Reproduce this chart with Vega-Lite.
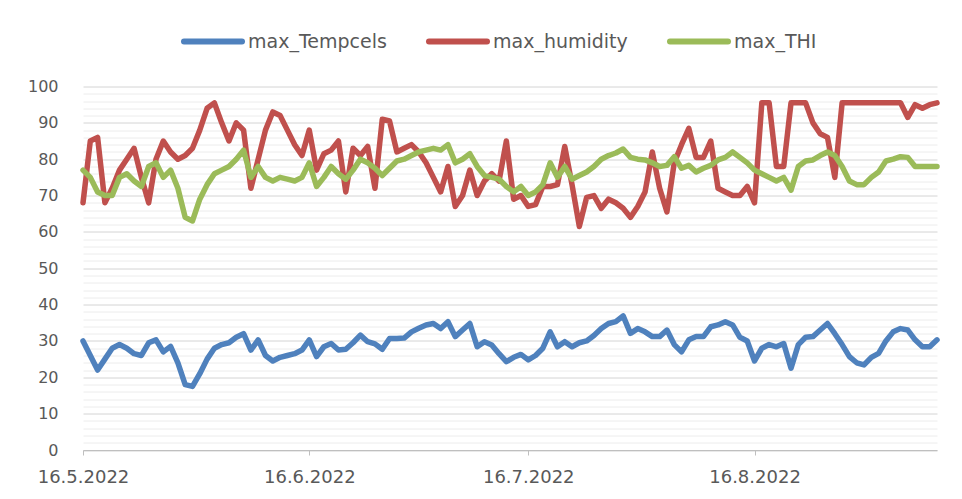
{
  "$schema": "https://vega.github.io/schema/vega-lite/v6.json",
  "width": 854,
  "height": 363.5,
  "autosize": {"type": "none"},
  "padding": {"left": 83, "top": 86.5, "right": 25, "bottom": 49},
  "background": "white",
  "config": {"view": {"stroke": null}},
  "data": {"values": [
    {"date": "2022/05/16", "max_Tempcels": 30, "max_humidity": 68, "max_THI": 77},
    {"date": "2022/05/17", "max_Tempcels": 26, "max_humidity": 85, "max_THI": 75},
    {"date": "2022/05/18", "max_Tempcels": 22, "max_humidity": 86, "max_THI": 71},
    {"date": "2022/05/19", "max_Tempcels": 25, "max_humidity": 68, "max_THI": 70},
    {"date": "2022/05/20", "max_Tempcels": 28, "max_humidity": 72, "max_THI": 70},
    {"date": "2022/05/21", "max_Tempcels": 29, "max_humidity": 77, "max_THI": 75},
    {"date": "2022/05/22", "max_Tempcels": 28, "max_humidity": 80, "max_THI": 76},
    {"date": "2022/05/23", "max_Tempcels": 26.5, "max_humidity": 83, "max_THI": 74},
    {"date": "2022/05/24", "max_Tempcels": 26, "max_humidity": 75, "max_THI": 72.5},
    {"date": "2022/05/25", "max_Tempcels": 29.5, "max_humidity": 68, "max_THI": 78},
    {"date": "2022/05/26", "max_Tempcels": 30.3, "max_humidity": 80, "max_THI": 79},
    {"date": "2022/05/27", "max_Tempcels": 27, "max_humidity": 85, "max_THI": 75},
    {"date": "2022/05/28", "max_Tempcels": 28.5, "max_humidity": 82, "max_THI": 77},
    {"date": "2022/05/29", "max_Tempcels": 24, "max_humidity": 80, "max_THI": 72},
    {"date": "2022/05/30", "max_Tempcels": 18, "max_humidity": 81, "max_THI": 64},
    {"date": "2022/05/31", "max_Tempcels": 17.5, "max_humidity": 83, "max_THI": 63},
    {"date": "2022/06/01", "max_Tempcels": 21, "max_humidity": 88, "max_THI": 69},
    {"date": "2022/06/02", "max_Tempcels": 25, "max_humidity": 94, "max_THI": 73},
    {"date": "2022/06/03", "max_Tempcels": 28, "max_humidity": 95.5, "max_THI": 76},
    {"date": "2022/06/04", "max_Tempcels": 29, "max_humidity": 90, "max_THI": 77},
    {"date": "2022/06/05", "max_Tempcels": 29.5, "max_humidity": 85, "max_THI": 78},
    {"date": "2022/06/06", "max_Tempcels": 31, "max_humidity": 90, "max_THI": 80},
    {"date": "2022/06/07", "max_Tempcels": 32, "max_humidity": 88, "max_THI": 82.5},
    {"date": "2022/06/08", "max_Tempcels": 27.5, "max_humidity": 72, "max_THI": 75},
    {"date": "2022/06/09", "max_Tempcels": 30.3, "max_humidity": 80, "max_THI": 78},
    {"date": "2022/06/10", "max_Tempcels": 26, "max_humidity": 88, "max_THI": 75},
    {"date": "2022/06/11", "max_Tempcels": 24.5, "max_humidity": 93, "max_THI": 74},
    {"date": "2022/06/12", "max_Tempcels": 25.5, "max_humidity": 92, "max_THI": 75},
    {"date": "2022/06/13", "max_Tempcels": 26, "max_humidity": 88, "max_THI": 74.5},
    {"date": "2022/06/14", "max_Tempcels": 26.5, "max_humidity": 84, "max_THI": 74},
    {"date": "2022/06/15", "max_Tempcels": 27.5, "max_humidity": 81, "max_THI": 75},
    {"date": "2022/06/16", "max_Tempcels": 30.3, "max_humidity": 88, "max_THI": 79},
    {"date": "2022/06/17", "max_Tempcels": 25.7, "max_humidity": 77, "max_THI": 72.5},
    {"date": "2022/06/18", "max_Tempcels": 28.4, "max_humidity": 81.5, "max_THI": 75},
    {"date": "2022/06/19", "max_Tempcels": 29.3, "max_humidity": 82.5, "max_THI": 78},
    {"date": "2022/06/20", "max_Tempcels": 27.5, "max_humidity": 85, "max_THI": 76},
    {"date": "2022/06/21", "max_Tempcels": 27.7, "max_humidity": 71, "max_THI": 74.5},
    {"date": "2022/06/22", "max_Tempcels": 29.5, "max_humidity": 83, "max_THI": 77},
    {"date": "2022/06/23", "max_Tempcels": 31.6, "max_humidity": 81, "max_THI": 80},
    {"date": "2022/06/24", "max_Tempcels": 29.8, "max_humidity": 83.5, "max_THI": 79},
    {"date": "2022/06/25", "max_Tempcels": 29.2, "max_humidity": 72, "max_THI": 77.5},
    {"date": "2022/06/26", "max_Tempcels": 27.7, "max_humidity": 91, "max_THI": 75.5},
    {"date": "2022/06/27", "max_Tempcels": 30.7, "max_humidity": 90.5, "max_THI": 77.5},
    {"date": "2022/06/28", "max_Tempcels": 30.7, "max_humidity": 82, "max_THI": 79.5},
    {"date": "2022/06/29", "max_Tempcels": 30.8, "max_humidity": 83, "max_THI": 80},
    {"date": "2022/06/30", "max_Tempcels": 32.5, "max_humidity": 84, "max_THI": 81},
    {"date": "2022/07/01", "max_Tempcels": 33.5, "max_humidity": 82, "max_THI": 82},
    {"date": "2022/07/02", "max_Tempcels": 34.4, "max_humidity": 79, "max_THI": 82.5},
    {"date": "2022/07/03", "max_Tempcels": 34.8, "max_humidity": 75, "max_THI": 83},
    {"date": "2022/07/04", "max_Tempcels": 33.4, "max_humidity": 71, "max_THI": 82.5},
    {"date": "2022/07/05", "max_Tempcels": 35.3, "max_humidity": 78, "max_THI": 84},
    {"date": "2022/07/06", "max_Tempcels": 31.2, "max_humidity": 67, "max_THI": 79},
    {"date": "2022/07/07", "max_Tempcels": 33, "max_humidity": 70, "max_THI": 80},
    {"date": "2022/07/08", "max_Tempcels": 34.8, "max_humidity": 77, "max_THI": 81.5},
    {"date": "2022/07/09", "max_Tempcels": 28.4, "max_humidity": 70, "max_THI": 78},
    {"date": "2022/07/10", "max_Tempcels": 29.8, "max_humidity": 74, "max_THI": 75.5},
    {"date": "2022/07/11", "max_Tempcels": 28.9, "max_humidity": 76, "max_THI": 75},
    {"date": "2022/07/12", "max_Tempcels": 26.5, "max_humidity": 74, "max_THI": 74.5},
    {"date": "2022/07/13", "max_Tempcels": 24.3, "max_humidity": 85, "max_THI": 72.5},
    {"date": "2022/07/14", "max_Tempcels": 25.5, "max_humidity": 69, "max_THI": 71},
    {"date": "2022/07/15", "max_Tempcels": 26.3, "max_humidity": 70, "max_THI": 72.5},
    {"date": "2022/07/16", "max_Tempcels": 24.8, "max_humidity": 67, "max_THI": 70},
    {"date": "2022/07/17", "max_Tempcels": 26, "max_humidity": 67.5, "max_THI": 71},
    {"date": "2022/07/18", "max_Tempcels": 28, "max_humidity": 72.5, "max_THI": 73},
    {"date": "2022/07/19", "max_Tempcels": 32.5, "max_humidity": 72.5, "max_THI": 79},
    {"date": "2022/07/20", "max_Tempcels": 28.4, "max_humidity": 73, "max_THI": 75},
    {"date": "2022/07/21", "max_Tempcels": 29.8, "max_humidity": 83.5, "max_THI": 78},
    {"date": "2022/07/22", "max_Tempcels": 28.4, "max_humidity": 73, "max_THI": 74.5},
    {"date": "2022/07/23", "max_Tempcels": 29.5, "max_humidity": 61.5, "max_THI": 75.5},
    {"date": "2022/07/24", "max_Tempcels": 30, "max_humidity": 69.5, "max_THI": 76.5},
    {"date": "2022/07/25", "max_Tempcels": 31.5, "max_humidity": 70, "max_THI": 78},
    {"date": "2022/07/26", "max_Tempcels": 33.4, "max_humidity": 66.5, "max_THI": 80},
    {"date": "2022/07/27", "max_Tempcels": 34.8, "max_humidity": 69, "max_THI": 81},
    {"date": "2022/07/28", "max_Tempcels": 35.3, "max_humidity": 68, "max_THI": 81.7},
    {"date": "2022/07/29", "max_Tempcels": 36.9, "max_humidity": 66.5, "max_THI": 82.8},
    {"date": "2022/07/30", "max_Tempcels": 32.1, "max_humidity": 64, "max_THI": 80.5},
    {"date": "2022/07/31", "max_Tempcels": 33.4, "max_humidity": 67, "max_THI": 80},
    {"date": "2022/08/01", "max_Tempcels": 32.5, "max_humidity": 71, "max_THI": 79.8},
    {"date": "2022/08/02", "max_Tempcels": 31.2, "max_humidity": 82, "max_THI": 79},
    {"date": "2022/08/03", "max_Tempcels": 31.2, "max_humidity": 72, "max_THI": 78},
    {"date": "2022/08/04", "max_Tempcels": 33, "max_humidity": 65.5, "max_THI": 78.3},
    {"date": "2022/08/05", "max_Tempcels": 29, "max_humidity": 79, "max_THI": 80.7},
    {"date": "2022/08/06", "max_Tempcels": 27, "max_humidity": 84, "max_THI": 77.5},
    {"date": "2022/08/07", "max_Tempcels": 30.3, "max_humidity": 88.5, "max_THI": 78.3},
    {"date": "2022/08/08", "max_Tempcels": 31.2, "max_humidity": 80.5, "max_THI": 76.5},
    {"date": "2022/08/09", "max_Tempcels": 31.2, "max_humidity": 80.5, "max_THI": 77.5},
    {"date": "2022/08/10", "max_Tempcels": 33.9, "max_humidity": 85, "max_THI": 78.3},
    {"date": "2022/08/11", "max_Tempcels": 34.4, "max_humidity": 72, "max_THI": 79.8},
    {"date": "2022/08/12", "max_Tempcels": 35.3, "max_humidity": 71, "max_THI": 80.5},
    {"date": "2022/08/13", "max_Tempcels": 34.4, "max_humidity": 70, "max_THI": 82},
    {"date": "2022/08/14", "max_Tempcels": 31, "max_humidity": 70, "max_THI": 80.5},
    {"date": "2022/08/15", "max_Tempcels": 30, "max_humidity": 72.5, "max_THI": 79},
    {"date": "2022/08/16", "max_Tempcels": 24.5, "max_humidity": 68, "max_THI": 77},
    {"date": "2022/08/17", "max_Tempcels": 28, "max_humidity": 95.5, "max_THI": 76},
    {"date": "2022/08/18", "max_Tempcels": 29, "max_humidity": 95.5, "max_THI": 75},
    {"date": "2022/08/19", "max_Tempcels": 28.4, "max_humidity": 78, "max_THI": 74},
    {"date": "2022/08/20", "max_Tempcels": 29.3, "max_humidity": 78, "max_THI": 75},
    {"date": "2022/08/21", "max_Tempcels": 22.5, "max_humidity": 95.5, "max_THI": 71.5},
    {"date": "2022/08/22", "max_Tempcels": 29, "max_humidity": 95.5, "max_THI": 78},
    {"date": "2022/08/23", "max_Tempcels": 31, "max_humidity": 95.5, "max_THI": 79.5},
    {"date": "2022/08/24", "max_Tempcels": 31.2, "max_humidity": 90, "max_THI": 79.8},
    {"date": "2022/08/25", "max_Tempcels": 33, "max_humidity": 87, "max_THI": 81},
    {"date": "2022/08/26", "max_Tempcels": 34.8, "max_humidity": 86, "max_THI": 82},
    {"date": "2022/08/27", "max_Tempcels": 32, "max_humidity": 75, "max_THI": 81},
    {"date": "2022/08/28", "max_Tempcels": 29, "max_humidity": 95.5, "max_THI": 78},
    {"date": "2022/08/29", "max_Tempcels": 25.7, "max_humidity": 95.5, "max_THI": 74},
    {"date": "2022/08/30", "max_Tempcels": 24, "max_humidity": 95.5, "max_THI": 73},
    {"date": "2022/08/31", "max_Tempcels": 23.4, "max_humidity": 95.5, "max_THI": 73},
    {"date": "2022/09/01", "max_Tempcels": 25.5, "max_humidity": 95.5, "max_THI": 75},
    {"date": "2022/09/02", "max_Tempcels": 26.6, "max_humidity": 95.5, "max_THI": 76.5},
    {"date": "2022/09/03", "max_Tempcels": 30, "max_humidity": 95.5, "max_THI": 79.5},
    {"date": "2022/09/04", "max_Tempcels": 32.5, "max_humidity": 95.5, "max_THI": 80},
    {"date": "2022/09/05", "max_Tempcels": 33.4, "max_humidity": 95.5, "max_THI": 80.7},
    {"date": "2022/09/06", "max_Tempcels": 33, "max_humidity": 91.5, "max_THI": 80.5},
    {"date": "2022/09/07", "max_Tempcels": 30.3, "max_humidity": 95, "max_THI": 78},
    {"date": "2022/09/08", "max_Tempcels": 28.4, "max_humidity": 94, "max_THI": 78},
    {"date": "2022/09/09", "max_Tempcels": 28.4, "max_humidity": 95, "max_THI": 78},
    {"date": "2022/09/10", "max_Tempcels": 30.3, "max_humidity": 95.5, "max_THI": 78}
  ]},
  "transform": [
    {"fold": ["max_Tempcels", "max_humidity", "max_THI"], "as": ["series", "value"]}
  ],
  "mark": {"type": "line", "strokeWidth": 5.5, "strokeCap": "round", "strokeJoin": "round"},
  "encoding": {
    "x": {
      "field": "date",
      "type": "temporal",
      "scale": {"domain": [{"year": 2022, "month": 5, "date": 16}, {"year": 2022, "month": 9, "date": 10}]},
      "axis": {
        "title": null,
        "values": [
          {"year": 2022, "month": 5, "date": 16},
          {"year": 2022, "month": 6, "date": 16},
          {"year": 2022, "month": 7, "date": 16},
          {"year": 2022, "month": 8, "date": 16}
        ],
        "format": "%-d.%-m.%Y",
        "grid": false,
        "domainColor": "#bfbfbf",
        "domainWidth": 1,
        "tickColor": "#bfbfbf",
        "tickSize": 5,
        "labelPadding": 13,
        "labelFont": "DejaVu Sans",
        "labelFontSize": 18,
        "labelColor": "#595959",
        "labelFlush": false,
        "labelOverlap": false
      }
    },
    "y": {
      "field": "value",
      "type": "quantitative",
      "scale": {"domain": [0, 100], "nice": false, "zero": true},
      "axis": {
        "title": null,
        "values": [0,2,4,6,8,10,12,14,16,18,20,22,24,26,28,30,32,34,36,38,40,42,44,46,48,50,52,54,56,58,60,62,64,66,68,70,72,74,76,78,80,82,84,86,88,90,92,94,96,98,100],
        "labelExpr": "datum.value % 10 === 0 ? datum.label : ''",
        "domain": false,
        "ticks": false,
        "grid": true,
        "gridColor": {"condition": {"test": "datum.value % 10 === 0", "value": "#d4d4d4"}, "value": "#ececec"},
        "gridWidth": 1,
        "labelPadding": 25,
        "labelFont": "DejaVu Sans",
        "labelFontSize": 16,
        "labelColor": "#595959",
        "labelOverlap": false
      }
    },
    "color": {
      "field": "series",
      "type": "nominal",
      "scale": {"domain": ["max_Tempcels", "max_humidity", "max_THI"], "range": ["#4F81BD", "#C0504D", "#9BBB59"]},
      "legend": {
        "title": null,
        "orient": "none",
        "direction": "horizontal",
        "legendX": 98,
        "legendY": -77,
        "padding": 0,
        "symbolType": "stroke",
        "symbolSize": 3364,
        "symbolStrokeWidth": 6,
        "labelOffset": 3,
        "columnPadding": 30,
        "labelFont": "DejaVu Sans",
        "labelFontSize": 19,
        "labelColor": "#595959",
        "labelLimit": 300,
        "encode": {"symbols": {"update": {"strokeCap": {"value": "round"}}}}
      }
    }
  }
}
